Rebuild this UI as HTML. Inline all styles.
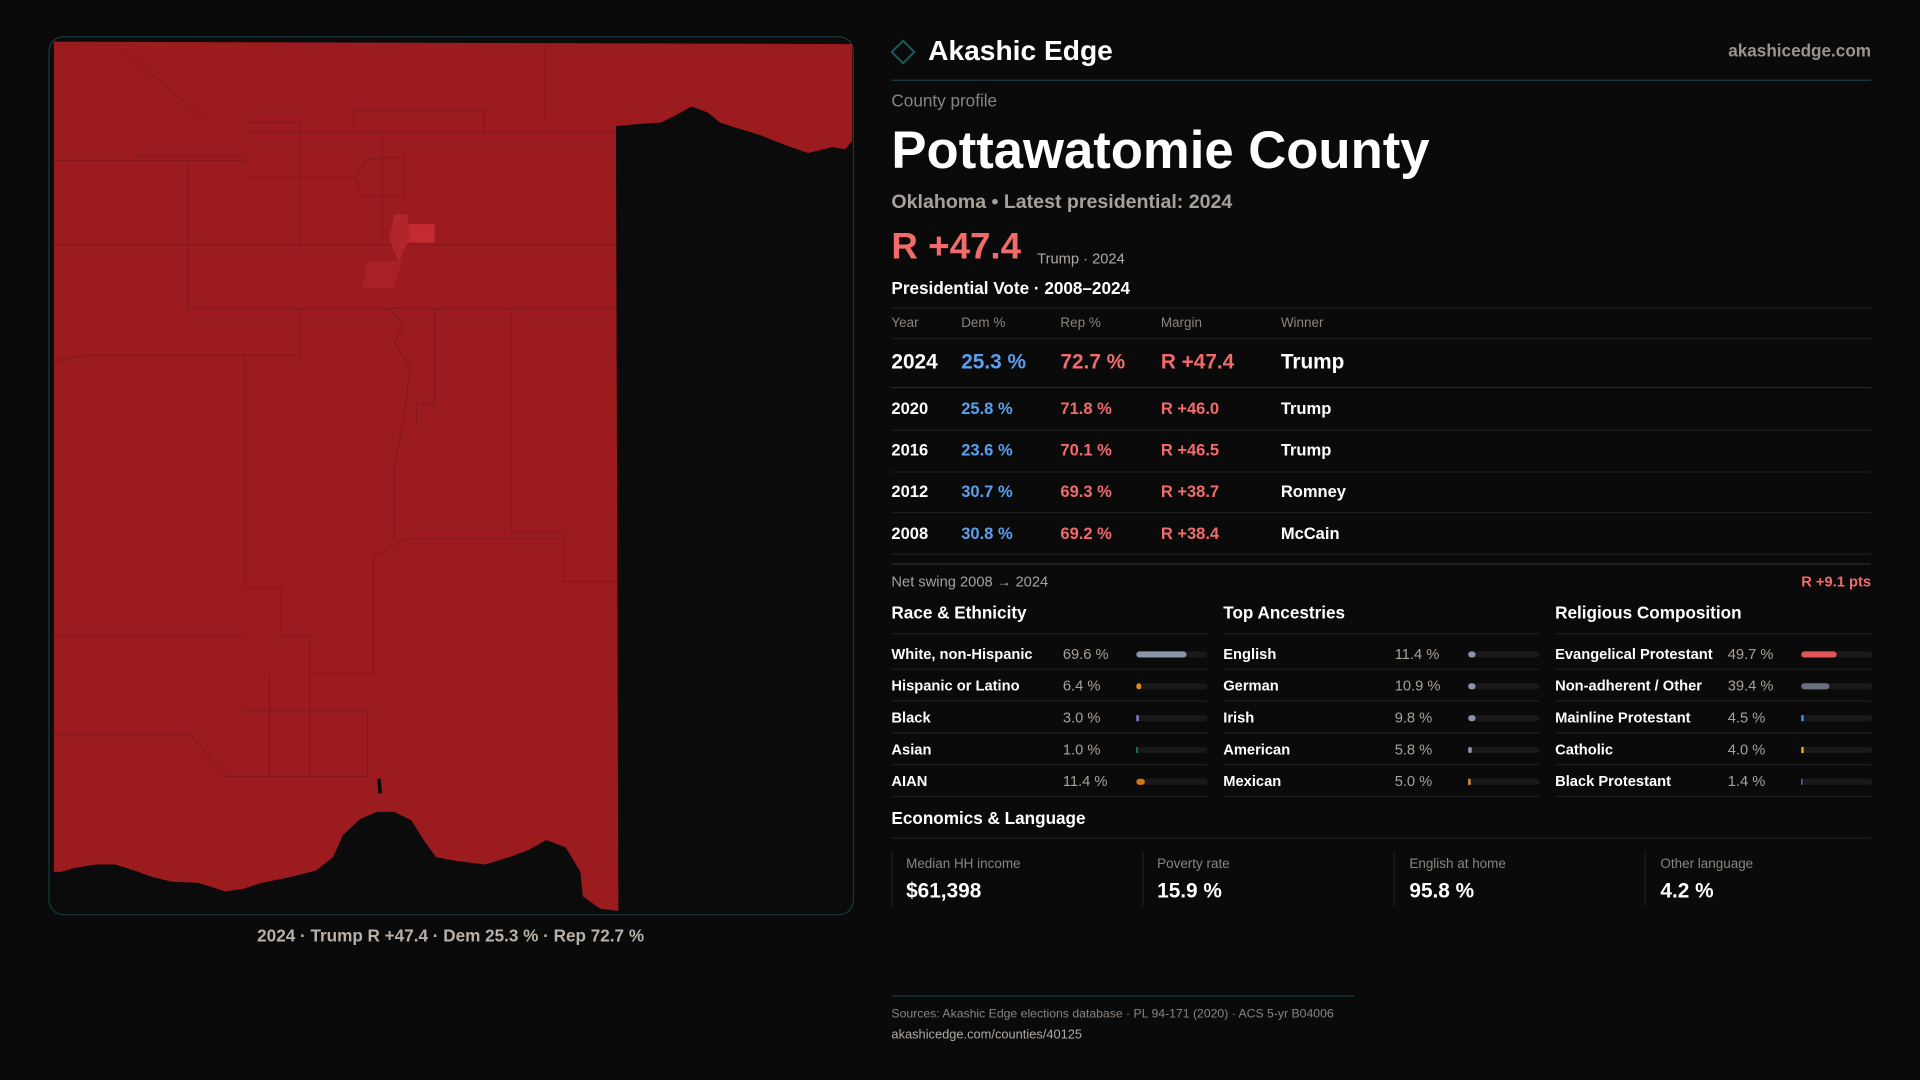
<!DOCTYPE html>
<html><head><meta charset="utf-8"><style>
html,body{margin:0;padding:0;background:#0a0a0b;}
svg{display:block}
text{font-family:"Liberation Sans",sans-serif;}
</style></head><body>
<svg width="1920" height="1080" viewBox="0 0 1568 882" xmlns="http://www.w3.org/2000/svg">
<rect width="1568" height="882" fill="#0a0a0b"/>
<rect x="40" y="30" width="657" height="717" rx="12" fill="#0b0b0c" stroke="#16393d" stroke-width="1"/>
<path fill="#9b1b1e" d="M44,34 L696,36 L696,115 L690,122 L680,120 L660,125 L640,118 L620,110 L600,104 L588,100 L578,92 L565,87 L552,94 L540,100 L525,101 L503,103 L505,744 L490,742 L476,732 L474,712 L462,692 L446,686 L432,694 L416,700 L396,706 L372,703 L356,700 L346,686 L336,670 L322,663 L308,663 L294,669 L280,682 L272,700 L258,711 L238,716 L214,721 L198,726 L184,728 L162,721 L140,720 L124,716 L110,711 L94,706 L78,706 L60,709 L50,712 L44,712 Z"/>
<g stroke="#761418" stroke-width="0.5" fill="none">
<path d="M44,131 H200 M44,200 H503 M154,131 V252 H503 M200,100 H245 M245,100 V200 M110,128 H200 M289,90 H395 M289,90 V108 M395,90 V108 M200,108 H503 M445,36 V100 M312,108 V200 M44,295 L70,290 H245 M245,252 V295 M200,290 V480 H230 M230,480 V520 M230,520 H253 M253,520 V550 M253,550 H305 M305,550 V455 M305,455 L330,440 H460 M460,440 V475 H503 M418,252 V435 M418,435 H460 M44,520 H200 M200,580 H300 M300,580 V634 M44,600 H155 L185,634 H300 M253,550 V634 M220,634 V550 M318,252 L330,265 L322,280 L335,300 L330,340 L322,380 L322,440 M355,252 V330 M340,330 H355 M340,330 V345"/>
<path d="M100,40 L170,100 M290,145 L300,130 L330,128 L330,160 L295,160 Z M200,145 H290"/>
</g>
<polygon fill="#c42b30" points="327,183 355,183 355,198 323,198"/>
<polygon fill="#a82126" points="300,213 325,213 330,205 322,235 296,235"/>
<polygon fill="#b0262a" points="322,175 333,175 335,195 325,213 318,195"/>
<polygon fill="#0a0a0b" points="308,636 311,636 312,648 309,648"/>
<text x="368" y="769" text-anchor="middle" font-size="14" fill="#b9b0a8" font-weight="bold">2024 · Trump R +47.4 · Dem 25.3 % · Rep 72.7 %</text>

<rect x="731" y="36" width="13" height="13" transform="rotate(45 737.5 42.5)" fill="none" stroke="#1a5a60" stroke-width="1.6"/>
<text x="758" y="49" font-size="23" fill="#ffffff" font-weight="bold">Akashic Edge</text>
<text x="1528" y="46" text-anchor="end" font-size="14" fill="#9a948e" font-weight="bold">akashicedge.com</text>
<line x1="728" y1="65.5" x2="1528" y2="65.5" stroke="#1c3a3e"/>
<text x="728" y="87" font-size="14" fill="#8a847e">County profile</text>
<text x="728" y="137" font-size="43" fill="#ffffff" font-weight="bold">Pottawatomie County</text>
<text x="728" y="170" font-size="16" fill="#a8a19a" font-weight="bold">Oklahoma • Latest presidential: 2024</text>
<text x="728" y="211" font-size="30" fill="#f26b6b" font-weight="bold">R +47.4</text>
<text x="847" y="215" font-size="12" fill="#b0aaa4">Trump · 2024</text>
<text x="728" y="240" font-size="14" fill="#ffffff" font-weight="bold">Presidential Vote · 2008–2024</text>
<g stroke="#1e1e20"><line x1="728" y1="251.5" x2="1528" y2="251.5"/><line x1="728" y1="276.5" x2="1528" y2="276.5"/><line x1="728" y1="316.5" x2="1528" y2="316.5" stroke="#2a2a2c"/><line x1="728" y1="351.5" x2="1528" y2="351.5"/><line x1="728" y1="385.5" x2="1528" y2="385.5"/><line x1="728" y1="418.5" x2="1528" y2="418.5"/><line x1="728" y1="452.5" x2="1528" y2="452.5"/><line x1="728" y1="460.5" x2="1528" y2="460.5" stroke="#2a2a2c"/></g>
<g font-size="11" fill="#8a847e"><text x="728" y="267">Year</text><text x="785" y="267">Dem %</text><text x="866" y="267">Rep %</text><text x="948" y="267">Margin</text><text x="1046" y="267">Winner</text></g>
<g font-size="17" font-weight="bold"><text x="728" y="301" fill="#fff">2024</text><text x="785" y="301" fill="#5aa0f0">25.3 %</text><text x="866" y="301" fill="#f26b6b">72.7 %</text><text x="948" y="301" fill="#f26b6b">R +47.4</text><text x="1046" y="301" fill="#fff">Trump</text></g>
<g font-size="13.5" font-weight="bold">
<text x="728" y="338" fill="#fff">2020</text><text x="785" y="338" fill="#5aa0f0">25.8 %</text><text x="866" y="338" fill="#f26b6b">71.8 %</text><text x="948" y="338" fill="#f26b6b">R +46.0</text><text x="1046" y="338" fill="#fff">Trump</text>
<text x="728" y="372" fill="#fff">2016</text><text x="785" y="372" fill="#5aa0f0">23.6 %</text><text x="866" y="372" fill="#f26b6b">70.1 %</text><text x="948" y="372" fill="#f26b6b">R +46.5</text><text x="1046" y="372" fill="#fff">Trump</text>
<text x="728" y="406" fill="#fff">2012</text><text x="785" y="406" fill="#5aa0f0">30.7 %</text><text x="866" y="406" fill="#f26b6b">69.3 %</text><text x="948" y="406" fill="#f26b6b">R +38.7</text><text x="1046" y="406" fill="#fff">Romney</text>
<text x="728" y="440" fill="#fff">2008</text><text x="785" y="440" fill="#5aa0f0">30.8 %</text><text x="866" y="440" fill="#f26b6b">69.2 %</text><text x="948" y="440" fill="#f26b6b">R +38.4</text><text x="1046" y="440" fill="#fff">McCain</text>
</g>
<text x="728" y="479" font-size="12" fill="#a8a19a">Net swing 2008 → 2024</text>
<text x="1528" y="479" text-anchor="end" font-size="12" fill="#f26b6b" font-weight="bold">R +9.1 pts</text>

<g font-size="14" fill="#fff" font-weight="bold"><text x="728" y="505">Race &amp; Ethnicity</text><text x="999" y="505">Top Ancestries</text><text x="1270" y="505">Religious Composition</text></g>
<g stroke="#1e1e20">
<path d="M728,517.5H986M999,517.5H1257M1270,517.5H1528 M728,546.5H986M999,546.5H1257M1270,546.5H1528 M728,572.5H986M999,572.5H1257M1270,572.5H1528 M728,598.5H986M999,598.5H1257M1270,598.5H1528 M728,624.5H986M999,624.5H1257M1270,624.5H1528 M728,650.5H986M999,650.5H1257M1270,650.5H1528"/>
</g>
<g font-size="12" fill="#fff" font-weight="bold">
<text x="728" y="538">White, non-Hispanic</text><text x="728" y="564">Hispanic or Latino</text><text x="728" y="590">Black</text><text x="728" y="616">Asian</text><text x="728" y="642">AIAN</text>
<text x="999" y="538">English</text><text x="999" y="564">German</text><text x="999" y="590">Irish</text><text x="999" y="616">American</text><text x="999" y="642">Mexican</text>
<text x="1270" y="538">Evangelical Protestant</text><text x="1270" y="564">Non-adherent / Other</text><text x="1270" y="590">Mainline Protestant</text><text x="1270" y="616">Catholic</text><text x="1270" y="642">Black Protestant</text>
</g>
<g font-size="12" fill="#a8a19a">
<text x="868" y="538">69.6 %</text><text x="868" y="564">6.4 %</text><text x="868" y="590">3.0 %</text><text x="868" y="616">1.0 %</text><text x="868" y="642">11.4 %</text>
<text x="1139" y="538">11.4 %</text><text x="1139" y="564">10.9 %</text><text x="1139" y="590">9.8 %</text><text x="1139" y="616">5.8 %</text><text x="1139" y="642">5.0 %</text>
<text x="1411" y="538">49.7 %</text><text x="1411" y="564">39.4 %</text><text x="1411" y="590">4.5 %</text><text x="1411" y="616">4.0 %</text><text x="1411" y="642">1.4 %</text>
</g>
<g fill="#19191b">
<rect x="928" y="532" width="58" height="5" rx="2.5"/><rect x="928" y="558" width="58" height="5" rx="2.5"/><rect x="928" y="584" width="58" height="5" rx="2.5"/><rect x="928" y="610" width="58" height="5" rx="2.5"/><rect x="928" y="636" width="58" height="5" rx="2.5"/>
<rect x="1199" y="532" width="58" height="5" rx="2.5"/><rect x="1199" y="558" width="58" height="5" rx="2.5"/><rect x="1199" y="584" width="58" height="5" rx="2.5"/><rect x="1199" y="610" width="58" height="5" rx="2.5"/><rect x="1199" y="636" width="58" height="5" rx="2.5"/>
<rect x="1471" y="532" width="58" height="5" rx="2.5"/><rect x="1471" y="558" width="58" height="5" rx="2.5"/><rect x="1471" y="584" width="58" height="5" rx="2.5"/><rect x="1471" y="610" width="58" height="5" rx="2.5"/><rect x="1471" y="636" width="58" height="5" rx="2.5"/>
</g>
<rect x="928" y="532" width="41" height="5" rx="2.5" fill="#8896a8"/>
<rect x="928" y="558" width="4" height="5" rx="2" fill="#d98a1a"/>
<rect x="928" y="584" width="2" height="5" fill="#8a7ad8"/>
<rect x="928" y="610" width="1" height="5" fill="#2aa08a"/>
<rect x="928" y="636" width="7" height="5" rx="2.5" fill="#d0780f"/>
<rect x="1199" y="532" width="6" height="5" rx="2.5" fill="#8a94a8"/>
<rect x="1199" y="558" width="6" height="5" rx="2.5" fill="#8a94a8"/>
<rect x="1199" y="584" width="6" height="5" rx="2.5" fill="#8a94a8"/>
<rect x="1199" y="610" width="3" height="5" rx="1.5" fill="#8a94a8"/>
<rect x="1199" y="636" width="2" height="5" fill="#e09020"/>
<rect x="1471" y="532" width="29" height="5" rx="2.5" fill="#e05555"/>
<rect x="1471" y="558" width="23" height="5" rx="2.5" fill="#6a7080"/>
<rect x="1471" y="584" width="2" height="5" fill="#4a8ae8"/>
<rect x="1471" y="610" width="2" height="5" fill="#e0b020"/>
<rect x="1471" y="636" width="1" height="5" fill="#7a6ad8"/>

<text x="728" y="673" font-size="14" fill="#fff" font-weight="bold">Economics &amp; Language</text>
<line x1="728" y1="684.5" x2="1528" y2="684.5" stroke="#1e1e20"/>
<g stroke="#1e1e20"><line x1="728.5" y1="695" x2="728.5" y2="740"/><line x1="933.5" y1="695" x2="933.5" y2="740"/><line x1="1138.5" y1="695" x2="1138.5" y2="740"/><line x1="1343.5" y1="695" x2="1343.5" y2="740"/></g>
<g font-size="11" fill="#8a847e"><text x="740" y="709">Median HH income</text><text x="945" y="709">Poverty rate</text><text x="1151" y="709">English at home</text><text x="1356" y="709">Other language</text></g>
<g font-size="17" fill="#fff" font-weight="bold"><text x="740" y="733">$61,398</text><text x="945" y="733">15.9 %</text><text x="1151" y="733">95.8 %</text><text x="1356" y="733">4.2 %</text></g>

<line x1="728" y1="813.5" x2="1106" y2="813.5" stroke="#16393d"/>
<text x="728" y="831" font-size="10" fill="#8a847e">Sources: Akashic Edge elections database · PL 94-171 (2020) · ACS 5-yr B04006</text>
<text x="728" y="848" font-size="10.5" fill="#b0aaa4">akashicedge.com/counties/40125</text>
</svg>
</body></html>
